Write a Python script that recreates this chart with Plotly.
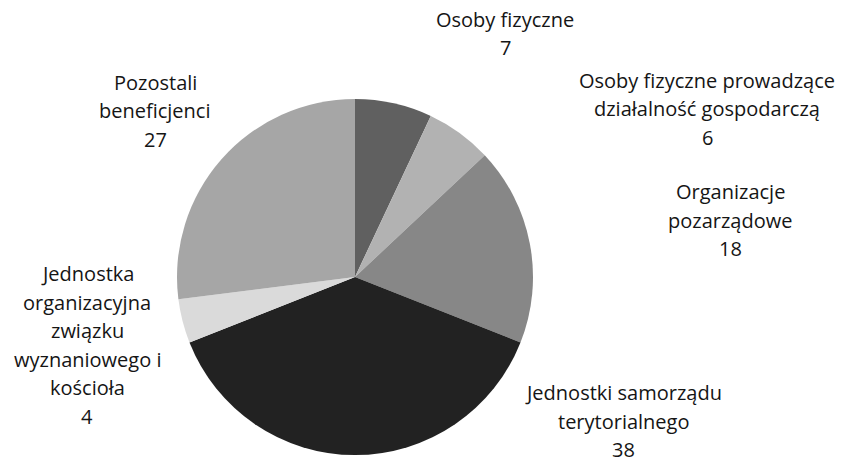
import plotly.graph_objects as go

labels = [
    "Osoby fizyczne",
    "Osoby fizyczne prowadzące działalność gospodarczą",
    "Organizacje pozarządowe",
    "Jednostki samorządu terytorialnego",
    "Jednostka organizacyjna związku wyznaniowego i kościoła",
    "Pozostali beneficjenci",
]
values = [7, 6, 18, 38, 4, 27]
colors = ["#606060", "#b2b2b2", "#878787", "#222222", "#dadada", "#a6a6a6"]
label_lines = [
    ["Osoby fizyczne"],
    ["Osoby fizyczne prowadzące", "działalność gospodarczą"],
    ["Organizacje", "pozarządowe"],
    ["Jednostki samorządu", "terytorialnego"],
    ["Jednostka", "organizacyjna", "związku", "wyznaniowego i", "kościoła"],
    ["Pozostali", "beneficjenci"],
]
# label block centres (pixels) in the 849x463 canvas
label_pos = [(505, 33.5), (707, 109), (730, 220), (623, 421), (87, 345), (155, 111)]
LINE_H = 28.5

W, H = 849, 463
cx, cy, r = 355, 277, 178

fig = go.Figure(go.Pie(
    labels=labels,
    values=values,
    sort=False,
    direction="clockwise",
    rotation=0,
    marker=dict(colors=colors, line=dict(width=0)),
    textinfo="none",
    hoverinfo="label+value",
    showlegend=False,
    domain=dict(x=[(cx - r) / W, (cx + r) / W], y=[1 - (cy + r) / H, 1 - (cy - r) / H]),
))

for lines, v, (px, py) in zip(label_lines, values, label_pos):
    all_lines = lines + [str(v)]
    n = len(all_lines)
    for i, t in enumerate(all_lines):
        ly = py + (i - (n - 1) / 2) * LINE_H
        fig.add_annotation(
            x=px / W, y=1 - ly / H, xref="paper", yref="paper",
            text=t, showarrow=False, xanchor="center", yanchor="middle", align="center",
            font=dict(family="Open Sans", size=20, color="#151515"),
        )

fig.update_layout(
    width=W, height=H,
    margin=dict(l=0, r=0, t=0, b=0),
    paper_bgcolor="white", plot_bgcolor="white",
)
fig.write_html("out.html", config={"displayModeBar": False},
               post_script="document.body.style.margin='0';")
